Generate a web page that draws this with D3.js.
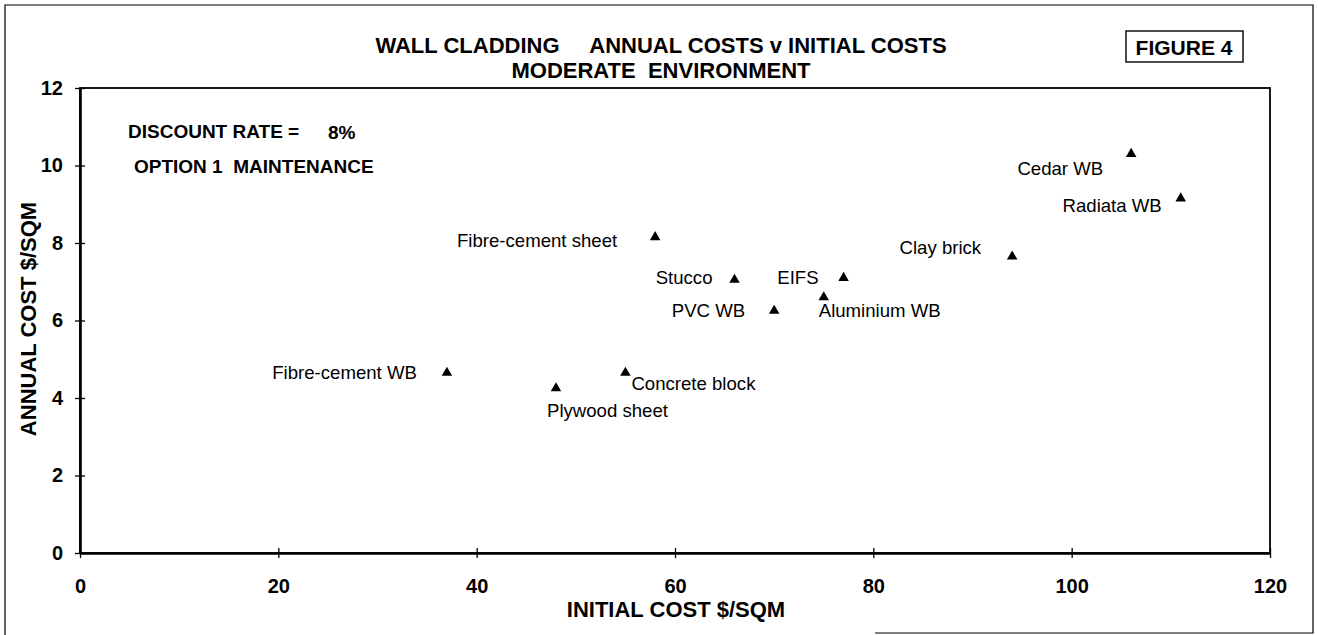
<!DOCTYPE html>
<html><head><meta charset="utf-8">
<script src="https://cdn.jsdelivr.net/npm/d3@7"></script>
<style>
html,body{margin:0;padding:0;background:#fff;}
svg text{font-family:"Liberation Sans",Arial,sans-serif;fill:#000;white-space:pre;}
</style></head>
<body><svg id="c" width="1318" height="635"></svg>
<script>
// ---- data ----
const materials = ["Fibre-cement WB","Plywood sheet","Concrete block","Fibre-cement sheet","Stucco","PVC WB","Aluminium WB","EIFS","Clay brick","Cedar WB","Radiata WB"];
const initialCost = [37, 48, 55, 58, 66, 70, 75, 77, 94, 106, 111];
const annualCost = [4.65, 4.25, 4.65, 8.15, 7.05, 6.25, 6.6, 7.1, 7.65, 10.3, 9.15];
const xTicks = [0, 20, 40, 60, 80, 100, 120];
const yTicks = [0, 2, 4, 6, 8, 10, 12];
const titleLines = ["WALL CLADDING     ANNUAL COSTS v INITIAL COSTS", "MODERATE  ENVIRONMENT"];
const xTitle = "INITIAL COST $/SQM";
const yTitle = "ANNUAL COST $/SQM";
const figureLabel = "FIGURE 4";
const notes = ["DISCOUNT RATE =", "8%", "OPTION 1  MAINTENANCE"];

// ---- layout ----
const svg = d3.select("#c");
const L = 80, R = 1270, T = 88, B = 553;
const x = d3.scaleLinear().domain([0,120]).range([L,R]);
const y = d3.scaleLinear().domain([0,12]).range([B,T]);

// outer frame (scan shows partial bottom edge)
svg.append("path").attr("d","M875,633H1313V5H5V635").attr("fill","none").attr("stroke","#000").attr("stroke-width",1.2);

// plot frame
svg.append("rect").attr("x",L).attr("y",T).attr("width",R-L).attr("height",B-T)
  .attr("fill","none").attr("stroke","#000").attr("stroke-width",1.8);

// axes
const xAxis = svg.append("g").attr("transform",`translate(0,${B})`)
  .call(d3.axisBottom(x).tickValues(xTicks).tickSizeInner(5).tickSizeOuter(0).tickPadding(21));
const yAxis = svg.append("g").attr("transform",`translate(${L},0)`)
  .call(d3.axisLeft(y).tickValues(yTicks).tickSizeInner(5).tickSizeOuter(0).tickPadding(12));
[xAxis,yAxis].forEach(g=>{
  g.select(".domain").attr("stroke","#000").attr("stroke-width",2.6);
  g.selectAll(".tick line").attr("stroke","#000").attr("stroke-width",1.3);
  g.selectAll(".tick text").attr("font-size",20).attr("font-weight","bold").attr("font-family","Liberation Sans, Arial, sans-serif");
});
xAxis.selectAll(".tick line").attr("y1",-5);
yAxis.selectAll(".tick line").attr("x1",5);

// axis titles
svg.append("text").attr("x",676).attr("y",617).attr("text-anchor","middle")
  .attr("font-size",22).attr("font-weight","bold").text(xTitle);
svg.append("text").attr("transform","translate(36,319) rotate(-90)").attr("text-anchor","middle")
  .attr("font-size",22).attr("font-weight","bold").text(yTitle);

// titles
svg.append("text").attr("x",661).attr("y",53).attr("text-anchor","middle").attr("font-size",22).attr("font-weight","bold").text(titleLines[0]);
svg.append("text").attr("x",661).attr("y",78).attr("text-anchor","middle").attr("font-size",22).attr("font-weight","bold").text(titleLines[1]);

// figure box
svg.append("rect").attr("x",1126).attr("y",31).attr("width",117).attr("height",31).attr("fill","none").attr("stroke","#000").attr("stroke-width",1.4);
svg.append("text").attr("x",1184).attr("y",55).attr("text-anchor","middle").attr("font-size",21).attr("font-weight","bold").text(figureLabel);

// notes
svg.append("text").attr("x",128).attr("y",138).attr("font-size",19).attr("font-weight","bold").text(notes[0]);
svg.append("text").attr("x",328).attr("y",139).attr("font-size",19).attr("font-weight","bold").text(notes[1]);
svg.append("text").attr("x",134).attr("y",173).attr("font-size",19).attr("font-weight","bold").text(notes[2]);

// points
const pts = materials.map((m,i)=>({name:m, xv:initialCost[i], yv:annualCost[i]}));
svg.append("g").selectAll("path").data(pts).join("path")
  .attr("d", d3.symbol(d3.symbolTriangle, 48))
  .attr("transform", d=>`translate(${x(d.xv)},${y(d.yv)})`)
  .attr("fill","#000");

// label placement (anchor, dx, dy)
const labelPlace = {
  "Fibre-cement WB":["end",-30,0], "Plywood sheet":["start",-9,22], "Concrete block":["start",6,11],
  "Fibre-cement sheet":["end",-38,3], "Stucco":["end",-22,-2], "PVC WB":["end",-29,0],
  "Aluminium WB":["start",-5,13], "EIFS":["end",-25,0], "Clay brick":["end",-31,-9],
  "Cedar WB":["end",-28,15], "Radiata WB":["end",-19,7]
};
svg.append("g").selectAll("text").data(pts).join("text")
  .attr("x", d=>x(d.xv)+labelPlace[d.name][1])
  .attr("y", d=>y(d.yv)+labelPlace[d.name][2])
  .attr("dy","0.35em")
  .attr("text-anchor", d=>labelPlace[d.name][0])
  .attr("font-size",18.6)
  .text(d=>d.name);
</script></body></html>
